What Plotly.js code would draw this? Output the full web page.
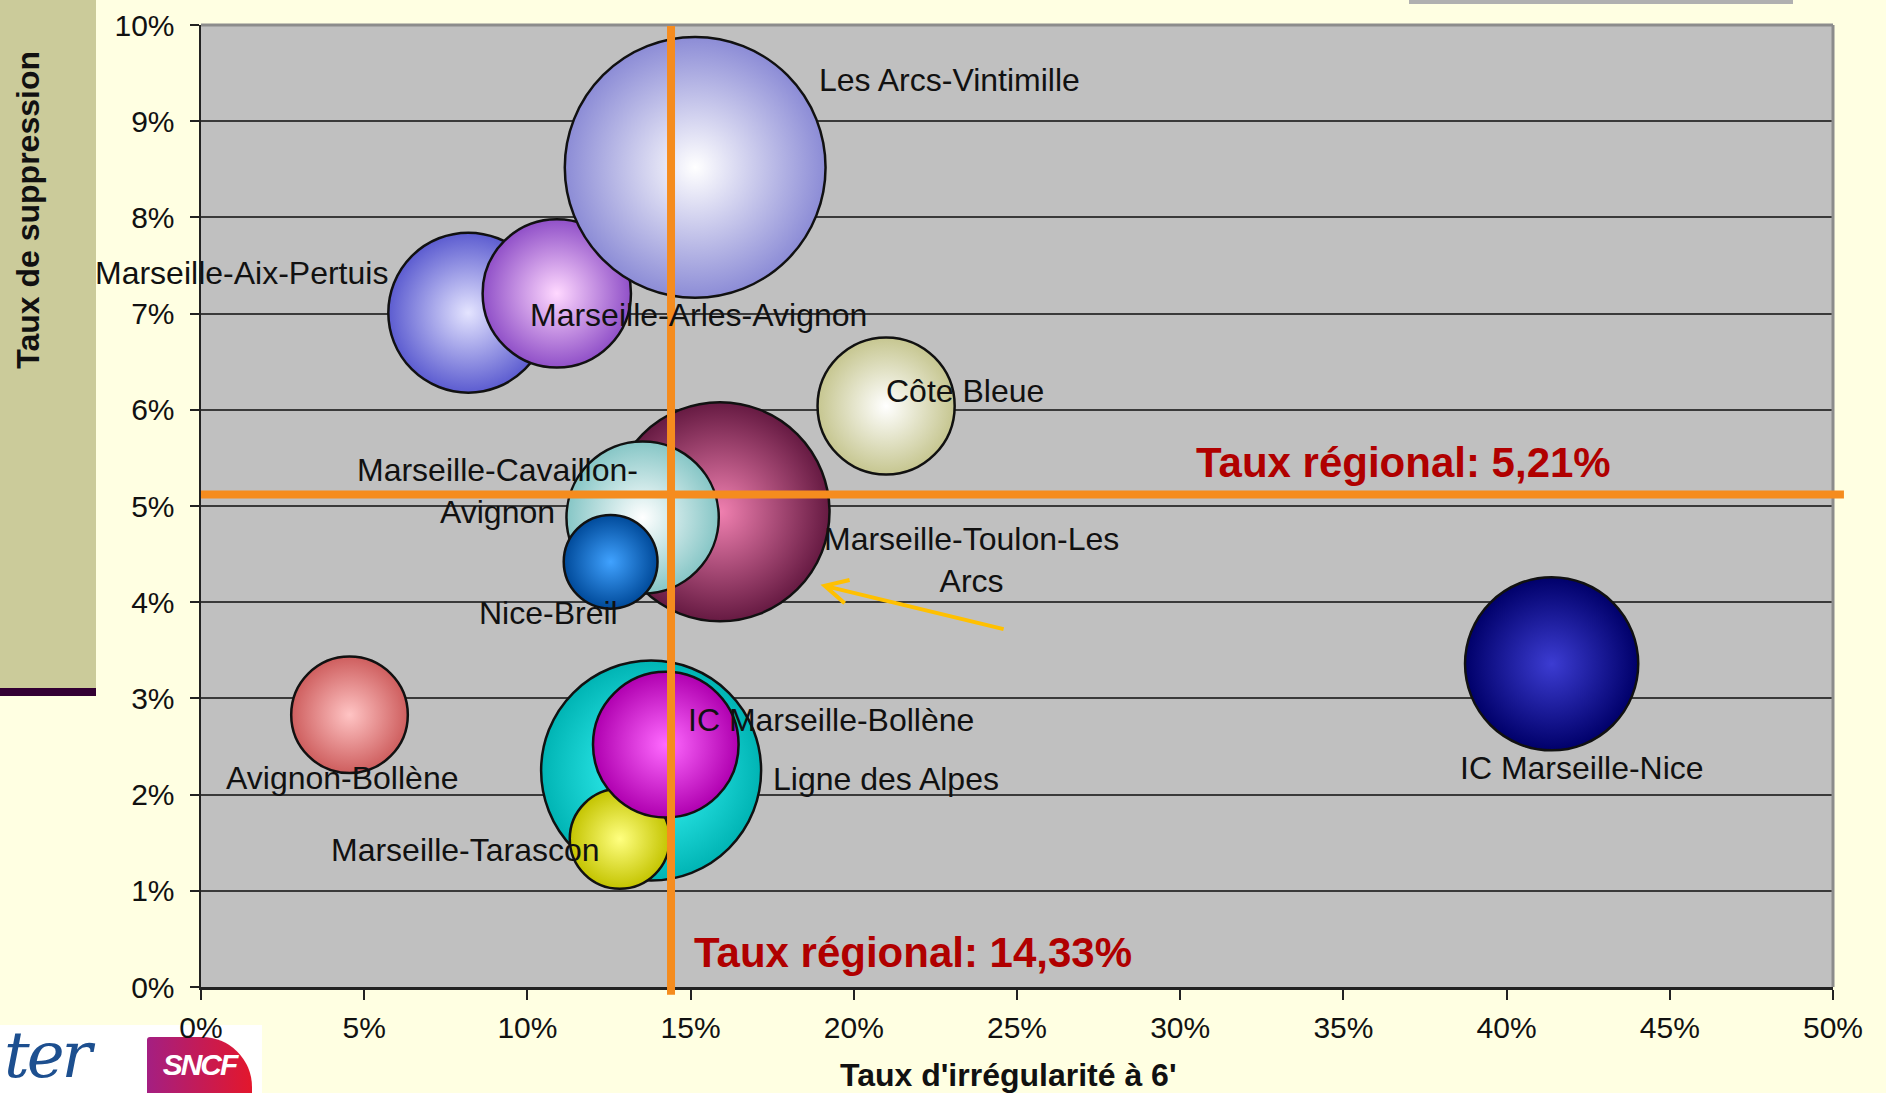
<!DOCTYPE html>
<html>
<head>
<meta charset="utf-8">
<script src="https://cdn.plot.ly/plotly-3.0.1.min.js"></script>
<style>
html,body{margin:0;padding:0;width:1886px;height:1093px;overflow:hidden;background:#FFFFE2;font-family:"Liberation Sans",Arial,sans-serif;}
#panel{position:absolute;left:0;top:0;width:96px;height:688px;background:#CBCB9A;border-bottom:8px solid #330033;}
#topbar{position:absolute;left:1409px;top:0;width:384px;height:4px;background:#B0B0B0;}
#logo{position:absolute;left:0;top:1025px;width:262px;height:68px;background:#ffffff;}
#ter{position:absolute;left:4px;top:2px;height:58px;line-height:56px;font-family:"DejaVu Serif",serif;font-style:italic;font-size:64px;color:#1D4F8F;letter-spacing:-3px;}
#sncf{position:absolute;left:147px;top:12px;width:105px;height:56px;background:linear-gradient(90deg,#A41F82,#E3172C);border-radius:3px 50px 0 0;color:#fff;font-style:italic;font-weight:bold;font-size:30px;line-height:56px;text-align:center;letter-spacing:-2px;}
#chart{position:absolute;left:0;top:0;width:1886px;height:1093px;}
</style>
</head>
<body>
<div id="panel"></div>
<div id="topbar"></div>
<div id="logo"><div id="ter">ter</div><div id="sncf">SNCF</div></div>
<div id="chart"></div>
<script>
// ---- Data ----
const routes = ["Ligne des Alpes", "Marseille-Tarascon", "IC Marseille-Bollène",
  "Marseille-Toulon-Les Arcs", "Marseille-Cavaillon-Avignon", "Nice-Breil",
  "Marseille-Aix-Pertuis", "Marseille-Arles-Avignon", "Les Arcs-Vintimille",
  "Côte Bleue", "Avignon-Bollène", "IC Marseille-Nice"];
// Taux d'irrégularité à 6' (%)
const irregularite = [13.79, 12.83, 14.24, 15.90, 13.53, 12.55, 8.19, 10.90, 15.14, 20.99, 4.55, 41.38];
// Taux de suppression (%)
const suppression = [2.25, 1.54, 2.52, 4.94, 4.88, 4.42, 7.01, 7.21, 8.52, 6.04, 2.83, 3.36];
// Bubble size (relative volume, area-proportional)
const volume = [121, 25, 53, 120, 58, 22, 64, 55, 170, 47, 34, 75];
// Regional rates (labels)
const tauxRegionalIrregularite = "14,33%";
const tauxRegionalSuppression = "5,21%";
// Reference lines as drawn on the picture
const refLineX = 14.4;
const refLineY = 5.12;
const xTickVals = [0, 5, 10, 15, 20, 25, 30, 35, 40, 45, 50];
const xTickText = ["0%", "5%", "10%", "15%", "20%", "25%", "30%", "35%", "40%", "45%", "50%"];
const yTickVals = [0, 1, 2, 3, 4, 5, 6, 7, 8, 9, 10];
const yTickText = ["0%", "1%", "2%", "3%", "4%", "5%", "6%", "7%", "8%", "9%", "10%"];

// ---- Styles ----
const edgeColors = ["#00B4B4", "#C4C400", "#B000B0", "#661A42", "#86C6C6", "#004A9A",
  "#5C5CD0", "#9050C8", "#8C8CD6", "#C6C690", "#CE5E5E", "#00006A"];
const centerColors = ["#40FFFF", "#FFFF80", "#FF6AFF", "#F080B0", "#FFFFFF", "#40A2FF",
  "#E4E4FF", "#FFD8FF", "#FFFFFF", "#FFFFFF", "#FFC4C4", "#3C3CD2"];
const labelText = ["Ligne des Alpes", "Marseille-Tarascon", "IC Marseille-Bollène",
  "Marseille-Toulon-Les<br>Arcs", "Marseille-Cavaillon-<br>Avignon", "Nice-Breil",
  "Marseille-Aix-Pertuis", "Marseille-Arles-Avignon", "Les Arcs-Vintimille",
  "Côte Bleue", "Avignon-Bollène", "IC Marseille-Nice"];
const labelAnchor = ["left", "right", "left", "center", "center", "center",
  "right", "left", "left", "left", "center", "center"];
const labelDx = [120, -18, 20, 252, -145, -62, -78, -29, 122, -2, -8, 30];
const labelDy = [-8, -11, 25, -48, 27, -51, 40, -22, 87, 15, -63, -104];

const FONT = '"Liberation Sans", Arial, sans-serif';

const bubbles = {
  type: 'scatter', mode: 'markers',
  x: irregularite, y: suppression, text: routes,
  cliponaxis: false,
  marker: {
    size: volume, sizemode: 'area', sizeref: 0.005,
    color: edgeColors,
    gradient: {type: 'radial', color: centerColors},
    line: {color: '#111', width: 2.5},
    opacity: 1
  },
  hoverinfo: 'text'
};

const annotations = routes.map((r, i) => ({
  x: irregularite[i], y: suppression[i], xref: 'x', yref: 'y',
  text: labelText[i], showarrow: false,
  xanchor: labelAnchor[i], yanchor: 'middle', align: 'center',
  xshift: labelDx[i], yshift: labelDy[i],
  font: {family: FONT, size: 32, color: '#111'}
}));

annotations.push({
  x: 30.43, y: 5.45, xref: 'x', yref: 'y', xanchor: 'left', yanchor: 'middle',
  showarrow: false, text: '<b>Taux régional: ' + tauxRegionalSuppression + '</b>',
  font: {family: FONT, size: 42, color: '#B00000'}
});
annotations.push({
  x: 15.03, y: 0.36, xref: 'x', yref: 'y', xanchor: 'left', yanchor: 'middle',
  showarrow: false, text: '<b>Taux régional: ' + tauxRegionalIrregularite + '</b>',
  font: {family: FONT, size: 42, color: '#B00000'}
});
annotations.push({
  x: 0.4945, y: -0.091, xref: 'paper', yref: 'paper', xanchor: 'center', yanchor: 'middle',
  showarrow: false, text: "<b>Taux d'irrégularité à 6'</b>",
  font: {family: FONT, size: 32, color: '#111'}
});
annotations.push({
  x: -0.106, y: 0.808, xref: 'paper', yref: 'paper', xanchor: 'center', yanchor: 'middle',
  showarrow: false, textangle: -90, text: "<b>Taux de suppression</b>",
  font: {family: FONT, size: 32, color: '#111'}
});

const shapes = [
  {type: 'line', xref: 'paper', yref: 'paper', x0: 0, x1: 1, y0: 1, y1: 1, line: {color: '#8C8C8C', width: 3}, layer: 'above'},
  {type: 'line', xref: 'paper', yref: 'paper', x0: 1, x1: 1, y0: 0, y1: 1, line: {color: '#8C8C8C', width: 3}, layer: 'above'},
  {type: 'line', xref: 'x', yref: 'paper', x0: refLineX, x1: refLineX, y0: -0.008, y1: 0.999, line: {color: '#F58C1E', width: 8}, layer: 'above'},
  {type: 'line', xref: 'paper', yref: 'y', x0: 0, x1: 1.0067, y0: refLineY, y1: refLineY, line: {color: '#F58C1E', width: 8}, layer: 'above'},
  {type: 'path', xref: 'x', yref: 'y', path: 'M 24.59 3.72 L 19.11 4.17 M 19.87 4.23 L 19.11 4.17 L 19.72 3.99', line: {color: '#FFC000', width: 4}, layer: 'above'}
];

const layout = {
  width: 1886, height: 1093,
  margin: {l: 201, r: 53, t: 25, b: 106, pad: 0},
  paper_bgcolor: 'rgba(0,0,0,0)', plot_bgcolor: '#C0C0C0',
  showlegend: false,
  font: {family: FONT, size: 30, color: '#111'},
  xaxis: {
    range: [0, 50], tickmode: 'array', tickvals: xTickVals, ticktext: xTickText,
    showgrid: false, zeroline: false,
    showline: true, linecolor: '#222', linewidth: 2.5,
    ticks: 'outside', ticklen: 10, tickwidth: 2, tickcolor: '#222',
    tickfont: {family: FONT, size: 30, color: '#111'}, ticklabelstandoff: 2,
    fixedrange: true
  },
  yaxis: {
    range: [0, 10], tickmode: 'array', tickvals: yTickVals, ticktext: yTickText,
    showgrid: true, gridcolor: '#3A3A3A', gridwidth: 2,
    zeroline: false, showline: true, linecolor: '#222', linewidth: 2.5,
    ticks: 'outside', ticklen: 9, tickwidth: 2, tickcolor: '#222',
    tickfont: {family: FONT, size: 30, color: '#111'}, ticklabelstandoff: 9,
    fixedrange: true
  },
  annotations: annotations,
  shapes: shapes
};

Plotly.newPlot('chart', [bubbles], layout, {displayModeBar: false, staticPlot: true});
</script>
</body>
</html>
